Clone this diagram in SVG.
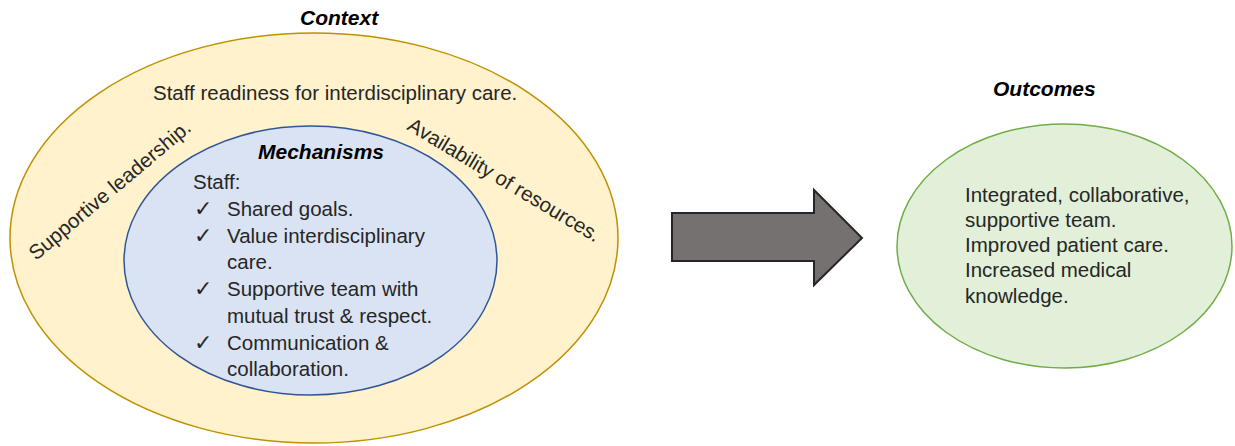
<svg xmlns="http://www.w3.org/2000/svg" width="1235" height="446" viewBox="0 0 1235 446">
  <style>
    .t { font-family: "Liberation Sans", Arial, sans-serif; font-size: 20.5px; fill: #262626; }
    .h { font-family: "Liberation Sans", Arial, sans-serif; font-size: 21px; font-weight: bold; font-style: italic; fill: #000; }
    .ck { font-family: "DejaVu Sans", sans-serif; font-size: 22px; fill: #262626; }
  </style>
  <rect x="0" y="0" width="1235" height="446" fill="#ffffff"/>
  <g id="context">
    <ellipse cx="314" cy="238" rx="304" ry="205" fill="#FFF2CC" stroke="#BF9000" stroke-width="1.5"/>
    <text class="h" x="300" y="25">Context</text>
    <text class="t" x="153" y="100">Staff readiness for interdisciplinary care.</text>
    <text class="t" transform="translate(36,261) rotate(-40)">Supportive leadership.</text>
    <text class="t" transform="translate(406,129) rotate(31)">Availability of resources.</text>
  </g>
  <g id="mechanisms">
    <ellipse cx="310.5" cy="260.5" rx="186.5" ry="134.5" fill="#DAE3F3" stroke="#2F5597" stroke-width="1.5"/>
    <text class="h" x="258" y="159">Mechanisms</text>
    <text class="t" x="193" y="189">Staff:</text>
    <text class="ck" x="194" y="216">✓</text>
    <text class="t" x="227" y="216">Shared goals.</text>
    <text class="ck" x="194" y="243">✓</text>
    <text class="t" x="227" y="243">Value interdisciplinary</text>
    <text class="t" x="227" y="269">care.</text>
    <text class="ck" x="194" y="296">✓</text>
    <text class="t" x="227" y="296">Supportive team with</text>
    <text class="t" x="227" y="323">mutual trust &amp; respect.</text>
    <text class="ck" x="194" y="350">✓</text>
    <text class="t" x="227" y="350">Communication &amp;</text>
    <text class="t" x="227" y="376">collaboration.</text>
  </g>
  <g id="connectors">
    <path d="M672,213 L814,213 L814,190 L862,238 L814,285 L814,261 L672,261 Z" fill="#767171" stroke="#262626" stroke-width="2" stroke-linejoin="miter"/>
  </g>
  <g id="outcomes">
    <text class="h" x="993" y="96">Outcomes</text>
    <ellipse cx="1064.5" cy="246" rx="167.5" ry="122" fill="#E2F0D9" stroke="#70AD47" stroke-width="1.5"/>
    <text class="t" x="965" y="202">Integrated, collaborative,</text>
    <text class="t" x="965" y="227">supportive team.</text>
    <text class="t" x="965" y="252">Improved patient care.</text>
    <text class="t" x="965" y="277">Increased medical</text>
    <text class="t" x="965" y="303">knowledge.</text>
  </g>
</svg>
